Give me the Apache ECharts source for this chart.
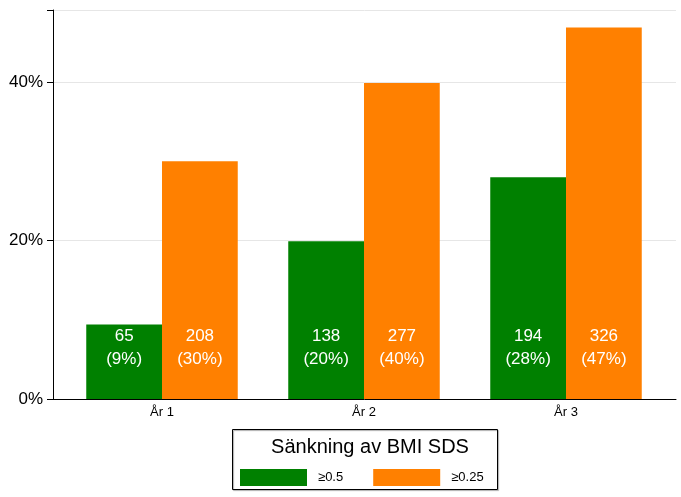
<!DOCTYPE html>
<html>
<head>
<meta charset="utf-8">
<script src="https://cdn.jsdelivr.net/npm/echarts@6/dist/echarts.min.js"></script>
<style>html,body{margin:0;padding:0;background:#fff;}#c{width:681px;height:497px;}</style>
</head>
<body>
<div id="c"></div>
<script>
var categories = ['År 1', 'År 2', 'År 3'];
var pct05 = [9.4, 19.9, 28.0];
var pct025 = [30.0, 39.9, 46.9];
var cnt05 = [65, 138, 194];
var cnt025 = [208, 277, 326];
var lbl05 = ['9%', '20%', '28%'];
var lbl025 = ['30%', '40%', '47%'];
var seriesNames = ['≥0.5', '≥0.25'];
var yTicks = [0, 20, 40];

var chart = echarts.init(document.getElementById('c'), null, {renderer: 'canvas'});
var FONT = 'Liberation Sans, Arial, sans-serif';
var yMax = 49.1;
function mkLabel(counts, labels) {
  return {
    show: true, position: 'insideBottom', distance: 28,
    color: '#fff', fontSize: 17, lineHeight: 23, fontFamily: FONT,
    formatter: function (p) { return counts[p.dataIndex] + '\n(' + labels[p.dataIndex] + ')'; }
  };
}
var option = {
  animation: false,
  backgroundColor: '#fff',
  grid: [
    {left: 53, right: 5, top: 10, bottom: 98},
    {left: 61, width: 606, top: 10, bottom: 98}
  ],
  xAxis: [
    {gridIndex: 0, type: 'value', min: 0, max: 1, axisLine: {show: true, onZero: false, lineStyle: {color: '#000', width: 1}},
     axisTick: {show: false}, axisLabel: {show: false}, splitLine: {show: false}},
    {gridIndex: 1, type: 'category', data: categories, axisLine: {show: false}, axisTick: {show: false},
     axisLabel: {color: '#000', fontSize: 13, fontFamily: FONT, margin: 7}}
  ],
  yAxis: [
    {gridIndex: 0, type: 'value', min: 0, max: yMax, interval: 20,
     axisLine: {show: true, lineStyle: {color: '#000', width: 1}},
     axisTick: {show: true, length: 6, lineStyle: {color: '#000'}},
     axisLabel: {color: '#000', fontSize: 17, fontFamily: FONT, margin: 10,
       formatter: function (v) { return yTicks.indexOf(v) >= 0 ? v + '%' : ''; }},
     splitLine: {show: true, lineStyle: {color: '#e6e6e6', width: 1}}},
    {gridIndex: 1, type: 'value', min: 0, max: yMax, show: false, splitLine: {show: false}}
  ],
  legend: {
    data: seriesNames, left: 235, top: 464, itemWidth: 67, itemHeight: 17, itemGap: 30,
    icon: 'rect', textStyle: {color: '#000', fontSize: 13, fontFamily: FONT, padding: [0, 0, 0, 6]},
    selectedMode: false
  },
  title: {
    text: 'Sänkning av BMI SDS', left: 365, top: 432, textAlign: 'center',
    textStyle: {color: '#000', fontSize: 20, fontWeight: 'normal', fontFamily: FONT}
  },
  graphic: [
    {type: 'rect', shape: {x: 232.5, y: 429.5, width: 265, height: 60},
     style: {fill: 'none', stroke: '#000', lineWidth: 1, shadowColor: 'rgba(0,0,0,0.35)', shadowOffsetX: 1, shadowOffsetY: 1, shadowBlur: 1}, z: 0}
  ],
  series: [
    {name: seriesNames[0], type: 'bar', xAxisIndex: 1, yAxisIndex: 1, data: pct05,
     itemStyle: {color: '#008000'}, barGap: '0%', barCategoryGap: '25%', label: mkLabel(cnt05, lbl05)},
    {name: seriesNames[1], type: 'bar', xAxisIndex: 1, yAxisIndex: 1, data: pct025,
     itemStyle: {color: '#ff8000'}, barGap: '0%', barCategoryGap: '25%', label: mkLabel(cnt025, lbl025)}
  ]
};
chart.setOption(option);
</script>
</body>
</html>
